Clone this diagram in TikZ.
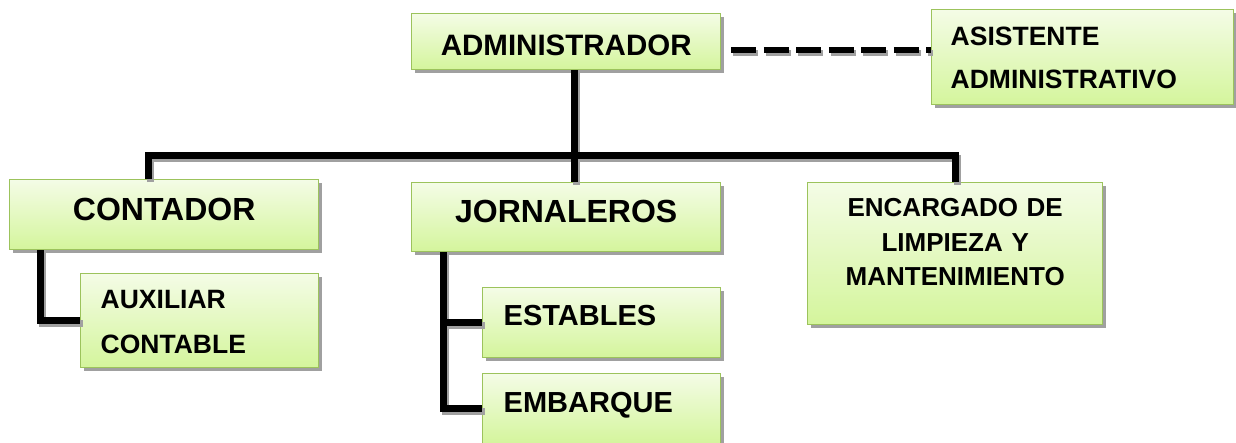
\documentclass[tikz,border=0pt]{standalone}
\usepackage{fontspec}
\setmainfont{Liberation Sans}
\usetikzlibrary{shadows}
\definecolor{boxtop}{HTML}{F4FCE6}
\definecolor{boxbot}{HTML}{D4F59C}
\definecolor{boxline}{HTML}{9CC35C}
\definecolor{shadowgray}{HTML}{A0A0A0}
\tikzset{
  orgbox/.style={draw=boxline, line width=1.4pt, top color=boxtop, bottom color=boxbot,
    inner ysep=0pt, anchor=north west, font=\bfseries,
    drop shadow={shadow xshift=3pt, shadow yshift=-3pt, fill=shadowgray, opacity=1}},
  conn/.style={line width=7pt, black, line join=miter},
  connsh/.style={line width=7pt, shadowgray, line join=miter, transform canvas={xshift=2.5pt, yshift=-3pt}},
  dashconn/.style={line width=6pt, black, dash pattern=on 25pt off 7.5pt},
  dashsh/.style={line width=6pt, shadowgray, dash pattern=on 25pt off 7.5pt, transform canvas={xshift=2pt, yshift=-3pt}}
}
\begin{document}
\begin{tikzpicture}[x=1pt,y=-1pt]
\useasboundingbox (0,0) rectangle (1236,442);
\clip (0,0) rectangle (1236,442);
% boxes
\node[orgbox, inner xsep=10pt, text width=289pt, align=center, text height=42pt, text depth=14pt,
  font=\bfseries\fontsize{29.5}{34}\selectfont] (admin) at (411,13) {ADMINISTRADOR};
\node[orgbox, inner xsep=19pt, text width=264pt, align=left, text height=36pt, text depth=59pt,
  font=\bfseries\fontsize{26.5}{43}\selectfont] (asis) at (931,9) {ASISTENTE\\ADMINISTRATIVO};
\node[orgbox, inner xsep=10pt, text width=289pt, align=center, text height=41pt, text depth=29pt,
  font=\bfseries\fontsize{32}{36}\selectfont] (cont) at (9,179) {CONTADOR};
\node[orgbox, inner xsep=10pt, text width=289pt, align=center, text height=40pt, text depth=29pt,
  font=\bfseries\fontsize{32}{36}\selectfont] (jorn) at (411,182) {JORNALEROS};
\node[orgbox, inner xsep=10pt, text width=275pt, align=center, text height=34pt, text depth=108pt,
  font=\bfseries\fontsize{26}{34.5}\selectfont] (enc) at (807,182) {ENCARGADO DE\\LIMPIEZA Y\\MANTENIMIENTO};
\node[orgbox, inner xsep=20pt, text width=198pt, align=left, text height=35pt, text depth=59pt,
  font=\bfseries\fontsize{26.5}{45}\selectfont] (aux) at (80,273) {AUXILIAR\\CONTABLE};
\node[orgbox, inner xsep=21pt, text width=196pt, align=left, text height=38pt, text depth=32pt,
  font=\bfseries\fontsize{29}{34}\selectfont] (est) at (482,287) {ESTABLES};
\node[orgbox, inner xsep=21pt, text width=196pt, align=left, text height=39pt, text depth=31pt,
  font=\bfseries\fontsize{29}{34}\selectfont] (emb) at (482,373) {EMBARQUE};
% junction coordinates
\coordinate (cl) at (148,155);
\coordinate (bus) at (574,155);
\coordinate (cr) at (955,155);
\coordinate (cv) at (40,0);
\coordinate (jv) at (443,0);
\coordinate (ds) at ([xshift=10pt,yshift=-8pt]admin.east);
% connector shadows
\draw[connsh] (cont.north -| cl) -- (cl) -- (cr) -- (enc.north -| cr);
\draw[connsh] (admin.south -| bus) -- (jorn.north -| bus);
\draw[connsh] (cont.south -| cv) |- (aux.west);
\draw[connsh] (jorn.south -| jv) |- (emb.west);
\draw[connsh] (jv |- est.west) -- (est.west);
\draw[dashsh] (ds) -- (ds -| asis.west);
% connectors
\draw[conn] (cont.north -| cl) -- (cl) -- (cr) -- (enc.north -| cr);
\draw[conn] (admin.south -| bus) -- (jorn.north -| bus);
\draw[conn] (cont.south -| cv) |- (aux.west);
\draw[conn] (jorn.south -| jv) |- (emb.west);
\draw[conn] (jv |- est.west) -- (est.west);
\draw[dashconn] (ds) -- (ds -| asis.west);
\end{tikzpicture}
\end{document}
